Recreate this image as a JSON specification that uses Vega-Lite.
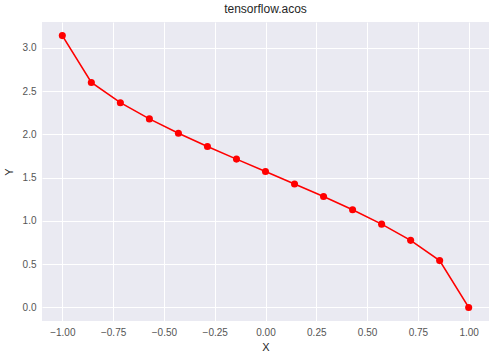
{
  "$schema": "https://vega.github.io/schema/vega-lite/v6.json",
  "width": 447,
  "height": 299,
  "autosize": {"type": "none"},
  "padding": {"left": 42, "top": 22, "right": 6, "bottom": 38},
  "background": "white",
  "title": {"text": "tensorflow.acos", "font": "Liberation Sans", "fontSize": 12, "fontWeight": "normal", "color": "#262626", "offset": 6},
  "config": {
    "view": {"fill": "#EAEAF2", "stroke": null},
    "axis": {
      "domain": false, "ticks": false, "gridColor": "white", "gridWidth": 1,
      "labelFont": "Liberation Sans", "labelFontSize": 10, "labelColor": "#555555",
      "titleFont": "Liberation Sans", "titleFontSize": 11, "titleFontWeight": "normal", "titleColor": "#262626",
      "labelPadding": 6
    }
  },
  "data": {"values": [
    {"x": -1.0, "y": 3.14159},
    {"x": -0.857143, "y": 2.60049},
    {"x": -0.714286, "y": 2.36640},
    {"x": -0.571429, "y": 2.17900},
    {"x": -0.428571, "y": 2.01371},
    {"x": -0.285714, "y": 1.86051},
    {"x": -0.142857, "y": 1.71414},
    {"x": 0.0, "y": 1.57080},
    {"x": 0.142857, "y": 1.42745},
    {"x": 0.285714, "y": 1.28108},
    {"x": 0.428571, "y": 1.12788},
    {"x": 0.571429, "y": 0.96259},
    {"x": 0.714286, "y": 0.77519},
    {"x": 0.857143, "y": 0.54110},
    {"x": 1.0, "y": 0.0}
  ]},
  "encoding": {
    "x": {"field": "x", "type": "quantitative", "scale": {"domain": [-1.1, 1.1], "nice": false, "zero": false},
      "axis": {"values": [-1, -0.75, -0.5, -0.25, 0, 0.25, 0.5, 0.75, 1], "format": ".2f", "title": "X", "titlePadding": 4}},
    "y": {"field": "y", "type": "quantitative", "scale": {"domain": [-0.157, 3.299], "nice": false, "zero": false},
      "axis": {"values": [0, 0.5, 1, 1.5, 2, 2.5, 3], "format": ".1f", "title": "Y", "titlePadding": 8}}
  },
  "layer": [
    {"mark": {"type": "line", "color": "red", "strokeWidth": 1.6}},
    {"mark": {"type": "point", "filled": true, "color": "red", "opacity": 1, "size": 50}}
  ]
}
